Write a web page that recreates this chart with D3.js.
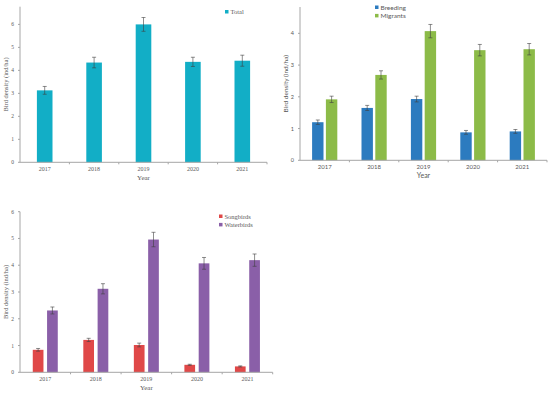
<!DOCTYPE html>
<html lang="en">
<head>
<meta charset="UTF-8">
<script src="https://d3js.org/d3.v7.min.js"></script>
<style>
  body{margin:0;background:#fff}
  svg{display:block}
  text{fill:#595959}
</style>
</head>
<body>
<script>
const years=["2017","2018","2019","2020","2021"];

const total=[3.13,4.34,6.0,4.37,4.42];
const totalErr=[0.17,0.23,0.3,0.2,0.24];

const breeding=[1.2,1.65,1.93,0.88,0.91];
const breedingErr=[0.07,0.08,0.09,0.06,0.06];
const migrants=[1.92,2.69,4.07,3.47,3.5];
const migrantsErr=[0.1,0.13,0.21,0.18,0.18];

const songbirds=[0.84,1.21,1.02,0.28,0.22];
const songbirdsErr=[0.05,0.06,0.07,0.02,0.02];
const waterbirds=[2.31,3.12,4.96,4.07,4.19];
const waterbirdsErr=[0.13,0.19,0.27,0.22,0.23];

const svg=d3.select("body").append("svg").attr("width",550).attr("height",396);

/* --- one bar panel --- */
function panel(o){
  const g=svg.append("g").attr("font-family",o.font);
  const x=d3.scaleBand().domain(years).range([o.x0,o.x1]);
  const y=d3.scaleLinear().domain([0,o.ymax]).range([o.base,o.top]);
  const n=o.series.length;
  const bw=o.bw, gap=o.gap, gw=n*bw+(n-1)*gap;
  const axisCol="#a6a6a6";

  o.series.forEach((s,si)=>{
    years.forEach((yr,i)=>{
      const cx=x(yr)+x.bandwidth()/2-gw/2+si*(bw+gap);
      g.append("rect").attr("x",cx).attr("width",bw)
        .attr("y",y(s.v[i])).attr("height",y(0)-y(s.v[i]))
        .attr("fill",s.c);
      const mx=cx+bw/2,lo=y(s.v[i]-s.e[i]),hi=y(s.v[i]+s.e[i]);
      g.append("line").attr("x1",mx).attr("x2",mx).attr("y1",lo).attr("y2",hi)
        .attr("stroke","#404040").attr("stroke-width",0.6);
      [lo,hi].forEach(yy=>g.append("line").attr("x1",mx-2).attr("x2",mx+2)
        .attr("y1",yy).attr("y2",yy).attr("stroke","#404040").attr("stroke-width",0.6));
    });
  });

  // y axis
  g.append("line").attr("x1",o.x0).attr("x2",o.x0).attr("y1",o.base).attr("y2",o.top)
    .attr("stroke",axisCol).attr("stroke-width",1);
  o.ticks.forEach(t=>{
    g.append("line").attr("x1",o.x0-2).attr("x2",o.x0).attr("y1",y(t)).attr("y2",y(t))
      .attr("stroke",axisCol);
    g.append("text").attr("x",o.x0-6).attr("y",y(t)+2).attr("text-anchor","end")
      .attr("font-size",5.5).text(t);
  });
  // x axis
  g.append("line").attr("x1",o.x0).attr("x2",o.x1).attr("y1",o.base).attr("y2",o.base)
    .attr("stroke",axisCol).attr("stroke-width",1);
  years.forEach((yr,i)=>{
    const bx=x(yr)+x.bandwidth();
    g.append("line").attr("x1",bx).attr("x2",bx).attr("y1",o.base).attr("y2",o.base+2)
      .attr("stroke",axisCol);
    g.append("text").attr("x",x(yr)+x.bandwidth()/2).attr("y",o.base+8.5)
      .attr("text-anchor","middle").attr("font-size",6).text(yr);
  });
  g.append("text").attr("x",(o.x0+o.x1)/2).attr("y",o.base+18)
    .attr("text-anchor","middle").attr("font-size",7).text("Year");
  g.append("text").attr("transform",`translate(${o.ylx},${(o.base+o.top)/2}) rotate(-90)`)
    .attr("text-anchor","middle").attr("font-size",6.5).text(o.ylab);

  // legend
  o.series.forEach((s,si)=>{
    const ly=o.ly+si*8.4;
    g.append("rect").attr("x",o.lx).attr("y",ly-2).attr("width",3.5).attr("height",3.5)
      .attr("fill",s.c);
    g.append("text").attr("x",o.lx+5.5).attr("y",ly+2).attr("font-size",6.5).text(s.name);
  });
}

const SERIF="'Liberation Serif','Times New Roman',serif";
const SANS="Lato,'Open Sans',sans-serif";

panel({font:SERIF,x0:20,x1:267,base:162.3,top:6.7,ymax:6.77,ticks:[0,1,2,3,4,5,6],
  bw:15.6,gap:0,ylx:8,ylab:"Bird density (ind/ha)",lx:225,ly:12,
  series:[{name:"Total",v:total,e:totalErr,c:"#12aec6"}]});

panel({font:SANS,x0:300,x1:547,base:160.3,top:7,ymax:4.83,ticks:[0,1,2,3,4],
  bw:11.4,gap:2.4,ylx:288,ylab:"Bird density (ind/ha)",lx:375,ly:7.5,
  series:[{name:"Breeding",v:breeding,e:breedingErr,c:"#2c7bbf"},
          {name:"Migrants",v:migrants,e:migrantsErr,c:"#8cbb48"}]});

panel({font:SERIF,x0:20,x1:272.7,base:372.3,top:211.7,ymax:6,ticks:[0,1,2,3,4,5,6],
  bw:10.7,gap:3.6,ylx:8,ylab:"Bird density (ind/ha)",lx:219,ly:216.5,
  series:[{name:"Songbirds",v:songbirds,e:songbirdsErr,c:"#e04848"},
          {name:"Waterbirds",v:waterbirds,e:waterbirdsErr,c:"#8a5fa8"}]});
</script>
</body>
</html>
